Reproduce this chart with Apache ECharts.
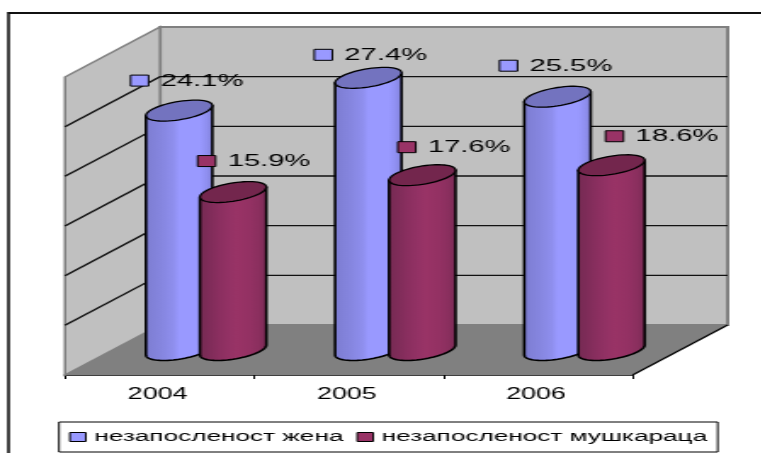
<!DOCTYPE html>
<html>
<head>
<meta charset="utf-8">
<style>
html,body{margin:0;padding:0;background:#fff;overflow:hidden;width:761px;height:453px}
#c{position:absolute;left:0;top:0;height:453px;transform-origin:0 0}
</style>
<script src="https://cdn.jsdelivr.net/npm/echarts@6/dist/echarts.min.js"></script>
</head>
<body>
<div id="c"></div>
<script>
// ---- data ----
var categories = ['2004', '2005', '2006'];
var womenName = 'незапосленост жена';
var menName = 'незапосленост мушкараца';
var women = [24.1, 27.4, 25.5];
var men = [15.9, 17.6, 18.6];
var yTicks = [0, 5, 10, 15, 20, 25, 30];

// The reference is a picture stretched horizontally; so is this page.
var S = 1.7;
var el = document.getElementById('c');
el.style.width = (761 / S) + 'px';
el.style.transform = 'scaleX(' + S + ')';

var px = function (v) { return v / S; };
var DEPTH_X = px(95), DEPTH_Y = -50;
var FONT = '"Liberation Sans", Arial, sans-serif';

function wallsItem(params, api) {
  var n = categories.length;
  var o = function (c, v, d) {
    var p = api.coord([c, v]);
    return [p[0] + DEPTH_X * d, p[1] + DEPTH_Y * d];
  };
  var half = api.size([1, 0])[0] / 2;
  var L = function (v, d) { var p = o(0, v, d); return [p[0] - half, p[1]]; };
  var R = function (v, d) { var p = o(n - 1, v, d); return [p[0] + half, p[1]]; };
  var top = yTicks[yTicks.length - 1];
  var kids = [
    { type: 'polygon', shape: { points: [L(0, 1), R(0, 1), R(top, 1), L(top, 1)] },
      style: { fill: '#c0c0c0', stroke: '#808080', lineWidth: 2 } },
    { type: 'polygon', shape: { points: [L(0, 0), L(0, 1), L(top, 1), L(top, 0)] },
      style: { fill: '#c0c0c0', stroke: '#808080', lineWidth: 1.5 } },
    { type: 'polygon', shape: { points: [L(0, 0), R(0, 0), R(0, 1), L(0, 1)] },
      style: { fill: '#808080', stroke: null } },
    { type: 'line', shape: { x1: R(0, 0)[0], y1: R(0, 0)[1], x2: R(0, 1)[0], y2: R(0, 1)[1] },
      style: { stroke: '#000', lineWidth: 1.2 } }
  ];
  yTicks.slice(1, -1).forEach(function (v) {
    var a = L(v, 0), b = L(v, 1), c = R(v, 1);
    kids.push({ type: 'polyline', shape: { points: [a, b, c] },
      style: { fill: null, stroke: '#111', lineWidth: 1.4 } });
  });
  return { type: 'group', children: kids };
}

function bandFill(c) {
  return { type: 'linear', x: 0, y: 0, x2: 1, y2: 0, colorStops: c.map(function (s) {
    return { offset: s[0], color: s[1] };
  }) };
}
var BLUE_BODY = bandFill([[0, '#7c7cd0'], [0.12, '#8181d8'], [0.25, '#8686e0'], [0.42, '#8f8fee'], [0.5, '#9999ff'], [0.8, '#9999ff'], [0.9, '#8f8ff0'], [1, '#8080d6']]);
var RED_BODY = bandFill([[0, '#742a52'], [0.15, '#7f2c59'], [0.3, '#8b2f60'], [0.45, '#943265'], [0.55, '#993366'], [0.75, '#933163'], [0.88, '#8a2f5e'], [1, '#772a54']]);

function cylinderItem(opts) {
  return function (params, api) {
    var cat = api.value(0), val = api.value(1);
    var top = api.coord([cat, val]), base = api.coord([cat, 0]);
    var cx = top[0] + DEPTH_X / 2 + opts.shift;
    var yT = top[1] + DEPTH_Y / 2, yB = base[1] + DEPTH_Y / 2;
    var hw = px(33.2), tilt = 5, rx = 9.2;
    var at = function (t, y) {
      return [cx + hw * Math.cos(t), y - tilt * Math.cos(t) + rx * Math.sin(t)];
    };
    var body = [at(Math.PI, yT)];
    for (var i = 0; i <= 36; i++) body.push(at(Math.PI - Math.PI * i / 36, yB));
    body.push(at(0, yT));
    var cap = [];
    for (var j = 0; j < 60; j++) cap.push(at(2 * Math.PI * j / 60, yT));
    var nudge = opts.nudge[params.dataIndex];
    var lx = cx + px(nudge[0]), ly = yT + nudge[1];
    return { type: 'group', children: [
      { type: 'polygon', shape: { points: body }, z2: 1,
        style: { fill: opts.body, stroke: '#000', lineWidth: 1.6, lineJoin: 'round' } },
      { type: 'polygon', shape: { points: cap }, z2: 2,
        style: { fill: opts.cap, stroke: '#000', lineWidth: 1.3 } },
      { type: 'rect', z2: 5, shape: { x: lx - px(30), y: ly - 5.5, width: px(18), height: 11 },
        style: { fill: opts.color, stroke: '#000', lineWidth: 1 } },
      { type: 'text', z2: 5, style: { x: lx, y: ly + 0.5, text: val.toFixed(1) + '%', font: '17.2px ' + FONT,
        fill: '#000', textAlign: 'left', textVerticalAlign: 'middle' } }
    ] };
  };
}

var toData = function (arr) { return arr.map(function (v, i) { return [i, v]; }); };

var chart = echarts.init(el, null, { renderer: 'canvas' });
chart.setOption({
  animation: false,
  backgroundColor: '#fff',
  tooltip: { show: false },
  textStyle: { fontFamily: FONT, color: '#000' },
  graphic: [
    { type: 'line', z: 100, shape: { x1: px(8), y1: 13, x2: 600, y2: 13 }, style: { stroke: '#111', lineWidth: 2 } },
    { type: 'line', z: 100, shape: { x1: px(8.5), y1: 12, x2: px(8.5), y2: 460 }, style: { stroke: '#111', lineWidth: 1.6 } }
  ],
  legend: {
    show: true, orient: 'horizontal',
    left: px(59), top: 422,
    padding: [7.5, px(10.5), 7.5, px(10)],
    itemGap: px(13), itemWidth: px(16), itemHeight: 9,
    borderColor: '#000', borderWidth: 1, backgroundColor: '#fff',
    icon: 'rect', selectedMode: false,
    itemStyle: { borderColor: '#000', borderWidth: 1 },
    textStyle: { fontSize: 15.4, color: '#000', fontFamily: FONT, padding: [0, 0, 0, 0] },
    data: [womenName, menName]
  },
  grid: { left: px(65), right: px(761 - 632), top: 77, bottom: 78, containLabel: false },
  xAxis: {
    type: 'category', data: categories,
    axisLine: { show: true, lineStyle: { color: '#000', width: 1.5 } },
    axisTick: { show: true, length: 4, alignWithLabel: false, lineStyle: { color: '#000', width: 1 } },
    axisLabel: { show: true, fontSize: 15.8, margin: 12, color: '#000', fontFamily: FONT, padding: [0, 2.4, 0, 0] },
    splitLine: { show: false }
  },
  yAxis: {
    type: 'value', min: yTicks[0], max: yTicks[yTicks.length - 1], interval: 5,
    axisLine: { show: false }, axisTick: { show: false }, axisLabel: { show: false }, splitLine: { show: false }
  },
  series: [
    { type: 'custom', name: 'walls', z: 1, silent: true, clip: false, renderItem: wallsItem,
      data: [[0, 0]], encode: { x: 0, y: 1 } },
    { type: 'custom', name: womenName, z: 2, silent: true, clip: false,
      itemStyle: { color: '#9999ff' }, data: toData(women), encode: { x: 0, y: 1 },
      renderItem: cylinderItem({ shift: px(-28), body: BLUE_BODY, cap: '#7373bf', color: '#9999ff',
        nudge: [[-18.5, -30], [-24, -23], [-28, -31]] }) },
    { type: 'custom', name: menName, z: 3, silent: true, clip: false,
      itemStyle: { color: '#993366' }, data: toData(men), encode: { x: 0, y: 1 },
      renderItem: cylinderItem({ shift: px(26), body: RED_BODY, cap: '#73264d', color: '#993366',
        nudge: [[-5.5, -31], [5.5, -28], [24, -29]] }) }
  ]
});
</script>
</body>
</html>
